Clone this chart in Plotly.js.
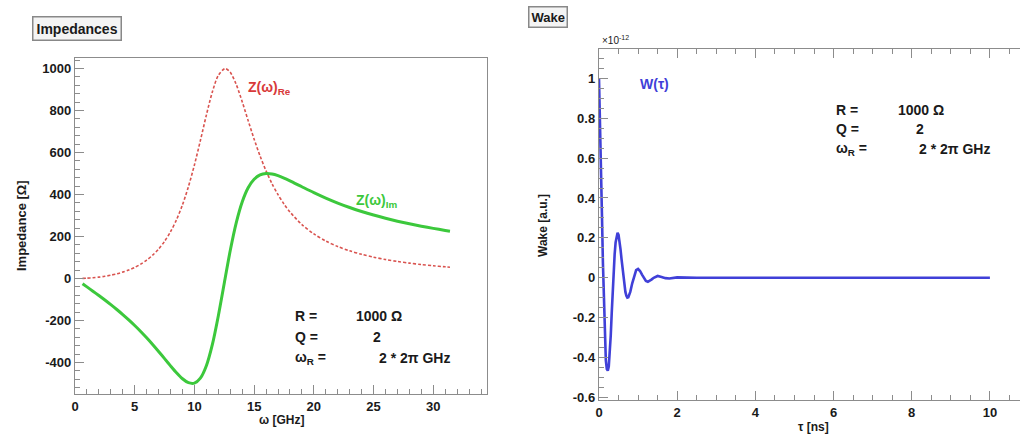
<!DOCTYPE html>
<html>
<head>
<meta charset="utf-8">
<script src="https://cdn.plot.ly/plotly-3.0.1.min.js"></script>
<style>html,body{margin:0;padding:0;background:#fff;}#chart{width:1020px;height:435px;}</style>
</head>
<body>
<div id="chart"></div>
<script>
// Impedance panel data (omega in GHz, impedance in Ohm)
const omega = [0.63, 1, 1.5, 2, 2.5, 3, 3.5, 4, 4.5, 5, 5.5, 6, 6.5, 7, 7.5, 8, 8.5, 9, 9.5, 10, 10.5, 11, 11.5, 12, 12.57, 13, 13.5, 14, 14.5, 15, 15.5, 16, 16.5, 17, 17.5, 18, 19, 20, 21, 22, 23, 24, 25, 26, 27, 28, 29, 30, 31, 31.4];
const zRe = [0.6, 1.6, 3.7, 6.6, 10.6, 15.8, 22.3, 30.4, 40.5, 52.9, 68.3, 87.3, 110.9, 140.2, 176.9, 222.7, 279.9, 350.9, 437.7, 540.7, 657.1, 778.1, 888.1, 967.0, 1000, 981.9, 923.9, 842.1, 751.8, 663.6, 583.1, 512.2, 451.1, 399.0, 354.6, 316.8, 256.8, 212.2, 178.5, 152.3, 131.7, 115.1, 101.6, 90.4, 81.1, 73.2, 66.4, 60.6, 55.6, 53.7];
const zIm = [-25.1, -40.0, -60.3, -81.1, -102.5, -124.6, -147.6, -171.7, -197.0, -223.9, -252.2, -282.3, -314.0, -347.2, -381.6, -416.0, -448.9, -477.3, -496.1, -498.3, -474.7, -415.5, -315.3, -178.5, 0, 133.3, 265.2, 364.6, 432.0, 472.5, 493.1, 499.8, 497.6, 489.7, 478.4, 465.2, 436.9, 408.9, 383.0, 359.3, 338.1, 319.2, 302.1, 286.8, 273.0, 260.4, 249.0, 238.6, 229.0, 225.5];

// Wake panel data (tau in ns, wake in units of 1e-12)
const tau = [0, 0.025, 0.05, 0.075, 0.1, 0.125, 0.15, 0.175, 0.2, 0.225, 0.25, 0.275, 0.3, 0.325, 0.35, 0.375, 0.4, 0.425, 0.45, 0.475, 0.5, 0.525, 0.55, 0.575, 0.6, 0.625, 0.65, 0.675, 0.7, 0.725, 0.75, 0.775, 0.8, 0.85, 0.9, 0.95, 1.0, 1.05, 1.1, 1.15, 1.2, 1.25, 1.3, 1.35, 1.4, 1.45, 1.5, 1.6, 1.7, 1.8, 1.9, 2.0, 2.5, 3, 4, 5, 6, 7, 8, 9, 10];
const wake = [1, 0.81, 0.575, 0.321, 0.076, -0.140, -0.305, -0.415, -0.458, -0.466, -0.445, -0.385, -0.291, -0.180, -0.068, 0.033, 0.117, 0.177, 0.213, 0.225, 0.215, 0.186, 0.144, 0.096, 0.046, 0.000, -0.040, -0.071, -0.091, -0.100, -0.098, -0.088, -0.071, -0.028, 0.013, 0.038, 0.044, 0.034, 0.016, -0.003, -0.016, -0.020, -0.016, -0.008, 0.000, 0.006, 0.009, 0.004, -0.002, -0.004, -0.001, 0.002, 0, 0, 0, 0, 0, 0, 0, 0, 0];

// Tick labels
const impTickVals = [-400, -200, 0, 200, 400, 600, 800, 1000];
const impTickText = ['-400', '-200', '0', '200', '400', '600', '800', '1000'];
const omegaTickVals = [0, 5, 10, 15, 20, 25, 30];
const omegaTickText = ['0', '5', '10', '15', '20', '25', '30'];
const wakeTickVals = [-0.6, -0.4, -0.2, 0, 0.2, 0.4, 0.6, 0.8, 1];
const wakeTickText = ['-0.6', '-0.4', '-0.2', '0', '0.2', '0.4', '0.6', '0.8', '1'];
const tauTickVals = [0, 2, 4, 6, 8, 10];
const tauTickText = ['0', '2', '4', '6', '8', '10'];

const FONT = 'Liberation Sans, Arial, Helvetica, sans-serif';
const W = 1020, H = 435;
const px = v => v / W;
const py = v => 1 - v / H;

const traces = [
  {x: omega, y: zRe, xaxis: 'x', yaxis: 'y', mode: 'lines', line: {color: '#d9534f', width: 1.6, dash: '3px,2px', shape: 'spline', smoothing: 0.8}, hoverinfo: 'skip'},
  {x: omega, y: zIm, xaxis: 'x', yaxis: 'y', mode: 'lines', line: {color: '#3cc83c', width: 3, shape: 'spline', smoothing: 0.8}, hoverinfo: 'skip'},
  {x: tau, y: wake, xaxis: 'x2', yaxis: 'y2', mode: 'lines', line: {color: '#4040d8', width: 2.6}, hoverinfo: 'skip'}
];

const axisCommon = {
  showline: true, linecolor: '#8c8c8c', linewidth: 1.2, mirror: true,
  ticks: 'inside', tickcolor: '#8c8c8c', ticklen: 9, tickwidth: 1,
  showgrid: false, zeroline: false,
  tickfont: {family: FONT, size: 13, color: '#1a1a1a', weight: 'bold'}
};

function ann(x, y, text, opts) {
  return Object.assign({xref: 'paper', yref: 'paper', x: px(x), y: py(y), text: text, showarrow: false,
    xanchor: 'left', yanchor: 'middle', font: {family: FONT, size: 14, color: '#1a1a1a', weight: 'bold'}}, opts || {});
}

const annotations = [
  ann(77, 29, 'Impedances', {bordercolor: '#888', borderwidth: 1.5, bgcolor: '#f4f4f4', borderpad: 3, xanchor: 'center'}),
  ann(548, 17, 'Wake', {bordercolor: '#888', borderwidth: 1.5, bgcolor: '#f4f4f4', borderpad: 2, xanchor: 'center', font: {family: FONT, size: 13, color: '#1a1a1a', weight: 'bold'}}),
  ann(600, 40, '×10<sup>-12</sup>', {font: {family: FONT, size: 10, color: '#1a1a1a'}}),
  ann(22, 226, 'Impedance [Ω]', {textangle: -90, xanchor: 'center', font: {family: FONT, size: 13, color: '#1a1a1a', weight: 'bold'}}),
  ann(281, 420, 'ω [GHz]', {xanchor: 'center', font: {family: FONT, size: 12, color: '#1a1a1a', weight: 'bold'}}),
  ann(543, 226, 'Wake [a.u.]', {textangle: -90, xanchor: 'center', font: {family: FONT, size: 12, color: '#1a1a1a', weight: 'bold'}}),
  ann(813, 427, 'τ [ns]', {xanchor: 'center', font: {family: FONT, size: 12, color: '#1a1a1a', weight: 'bold'}}),
  ann(246, 88, 'Z(ω)<sub>Re</sub>', {font: {family: FONT, size: 14, color: '#d83a3a', weight: 'bold'}}),
  ann(354, 201, 'Z(ω)<sub>Im</sub>', {font: {family: FONT, size: 14, color: '#3cc83c', weight: 'bold'}}),
  ann(638, 84, 'W(τ)', {font: {family: FONT, size: 14, color: '#4040d8', weight: 'bold'}}),
  // parameters, left panel
  ann(293, 316, 'R =', {}),
  ann(354, 316, '1000 Ω', {}),
  ann(293, 337, 'Q =', {}),
  ann(371, 337, '2', {}),
  ann(293, 358, 'ω<sub>R</sub> =', {}),
  ann(377, 358, '2 * 2π GHz', {}),
  // parameters, right panel
  ann(834, 110, 'R =', {}),
  ann(896, 110, '1000 Ω', {}),
  ann(834, 129, 'Q =', {}),
  ann(914, 129, '2', {}),
  ann(834, 149, 'ω<sub>R</sub> =', {}),
  ann(917, 149, '2 * 2π GHz', {})
];

const layout = {
  width: W, height: H,
  margin: {l: 0, r: 0, t: 0, b: 0, pad: 0},
  paper_bgcolor: '#fff', plot_bgcolor: '#fff',
  showlegend: false,
  xaxis: Object.assign({}, axisCommon, {domain: [px(75), px(487)], range: [0, 34.5], anchor: 'y',
    tickvals: omegaTickVals, ticktext: omegaTickText,
    minor: {dtick: 1, ticks: 'inside', ticklen: 5, tickcolor: '#8c8c8c', tickwidth: 1}}),
  yaxis: Object.assign({}, axisCommon, {domain: [py(394), py(58)], range: [-550, 1050], anchor: 'x',
    tickvals: impTickVals, ticktext: impTickText,
    minor: {dtick: 40, ticks: 'inside', ticklen: 5, tickcolor: '#8c8c8c', tickwidth: 1}}),
  xaxis2: Object.assign({}, axisCommon, {domain: [px(599), 1], range: [0, 10.77], anchor: 'y2',
    tickvals: tauTickVals, ticktext: tauTickText, mirror: 'ticks',
    minor: {dtick: 0.5, ticks: 'inside', ticklen: 5, tickcolor: '#8c8c8c', tickwidth: 1}}),
  yaxis2: Object.assign({}, axisCommon, {domain: [py(400), py(49)], range: [-0.613, 1.147], anchor: 'x2',
    tickvals: wakeTickVals, ticktext: wakeTickText, mirror: false,
    minor: {dtick: 0.05, ticks: 'inside', ticklen: 5, tickcolor: '#8c8c8c', tickwidth: 1}}),
  annotations: annotations
};

Plotly.newPlot('chart', traces, layout, {staticPlot: true, displayModeBar: false});
</script>
</body>
</html>
